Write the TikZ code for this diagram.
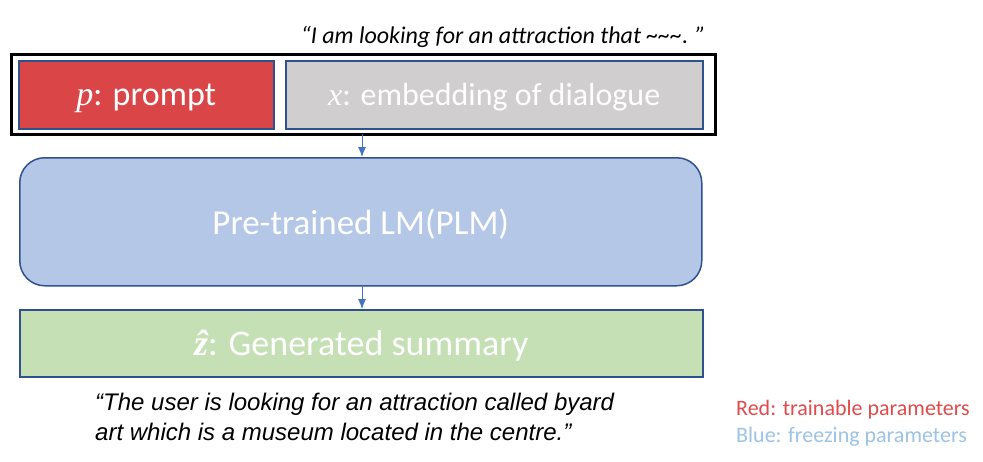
\documentclass[tikz,border=0pt]{standalone}
\usepackage{fontspec}
\usetikzlibrary{arrows.meta}
\setmainfont{Carlito}
\newfontfamily\arialfont{Liberation Sans}
\newfontfamily\mfont{Liberation Serif}
\definecolor{redbox}{HTML}{DA4648}
\definecolor{graybox}{HTML}{D0CECE}
\definecolor{bluebox}{HTML}{B4C7E7}
\definecolor{greenbox}{HTML}{C5E0B4}
\definecolor{edgeblue}{HTML}{2F528F}
\definecolor{arrowblue}{HTML}{4472C4}
\definecolor{legred}{HTML}{E04B4B}
\definecolor{legblue}{HTML}{9DC3E6}
\begin{document}
\begin{tikzpicture}[x=1pt,y=-1pt,
  box/.style={draw=edgeblue, line width=1.5pt, anchor=north west, inner sep=0pt, text=white, text depth=0pt},
  conn/.style={draw=arrowblue, line width=0.9pt, -{Latex[length=10pt,width=8pt]}}]
\useasboundingbox (0,0) rectangle (983,461);
\fill[white] (0,0) rectangle (983,461);
\node[anchor=east, font=\itshape\fontsize{24}{26}\selectfont, inner sep=0pt] (q1) at (706,37) {“I am looking for an attraction that \textasciitilde\textasciitilde\textasciitilde. ”};
\node[draw=black, line width=3pt, anchor=north west, minimum width=704pt, minimum height=80pt, inner sep=0pt] (outer) at (10,53) {};
\node[box, fill=redbox, minimum width=255pt, minimum height=68pt, font=\fontsize{34}{36}\selectfont] (p) at (18,60) {{\mfont\itshape p}: prompt};
\node[box, fill=graybox, minimum width=417pt, minimum height=68pt, font=\fontsize{32}{36}\selectfont] (x) at (285,60) {{\mfont\itshape x}: embedding of dialogue};
\node[box, fill=bluebox, rounded corners=25pt, minimum width=682pt, minimum height=128pt, font=\fontsize{35}{40}\selectfont] (plm) at (19,157) {Pre-trained LM(PLM)};
\node[box, fill=greenbox, minimum width=683pt, minimum height=67pt, font=\fontsize{36}{40}\selectfont] (z) at (19,309) {{\mfont\bfseries\itshape \^{z}}: Generated summary};
\coordinate (a1) at (362,133.5);
\coordinate (a2) at (362,285);
\draw[conn] (a1) -- (a1 |- plm.north);
\draw[conn] (a2) -- (a2 |- z.north);
\node[anchor=north west, align=left, font=\arialfont\itshape\fontsize{24}{30}\selectfont, inner sep=0pt] (q2) at (95,393) {“The user is looking for an attraction called byard\\art which is a museum located in the centre.”};
\node[anchor=west, text=legred, font=\fontsize{22}{24}\selectfont, inner sep=0pt] (l1) at (736,410) {Red: trainable parameters};
\node[anchor=west, text=legblue, font=\fontsize{22}{24}\selectfont, inner sep=0pt] (l2) at (736,437) {Blue: freezing parameters};
\end{tikzpicture}
\end{document}
